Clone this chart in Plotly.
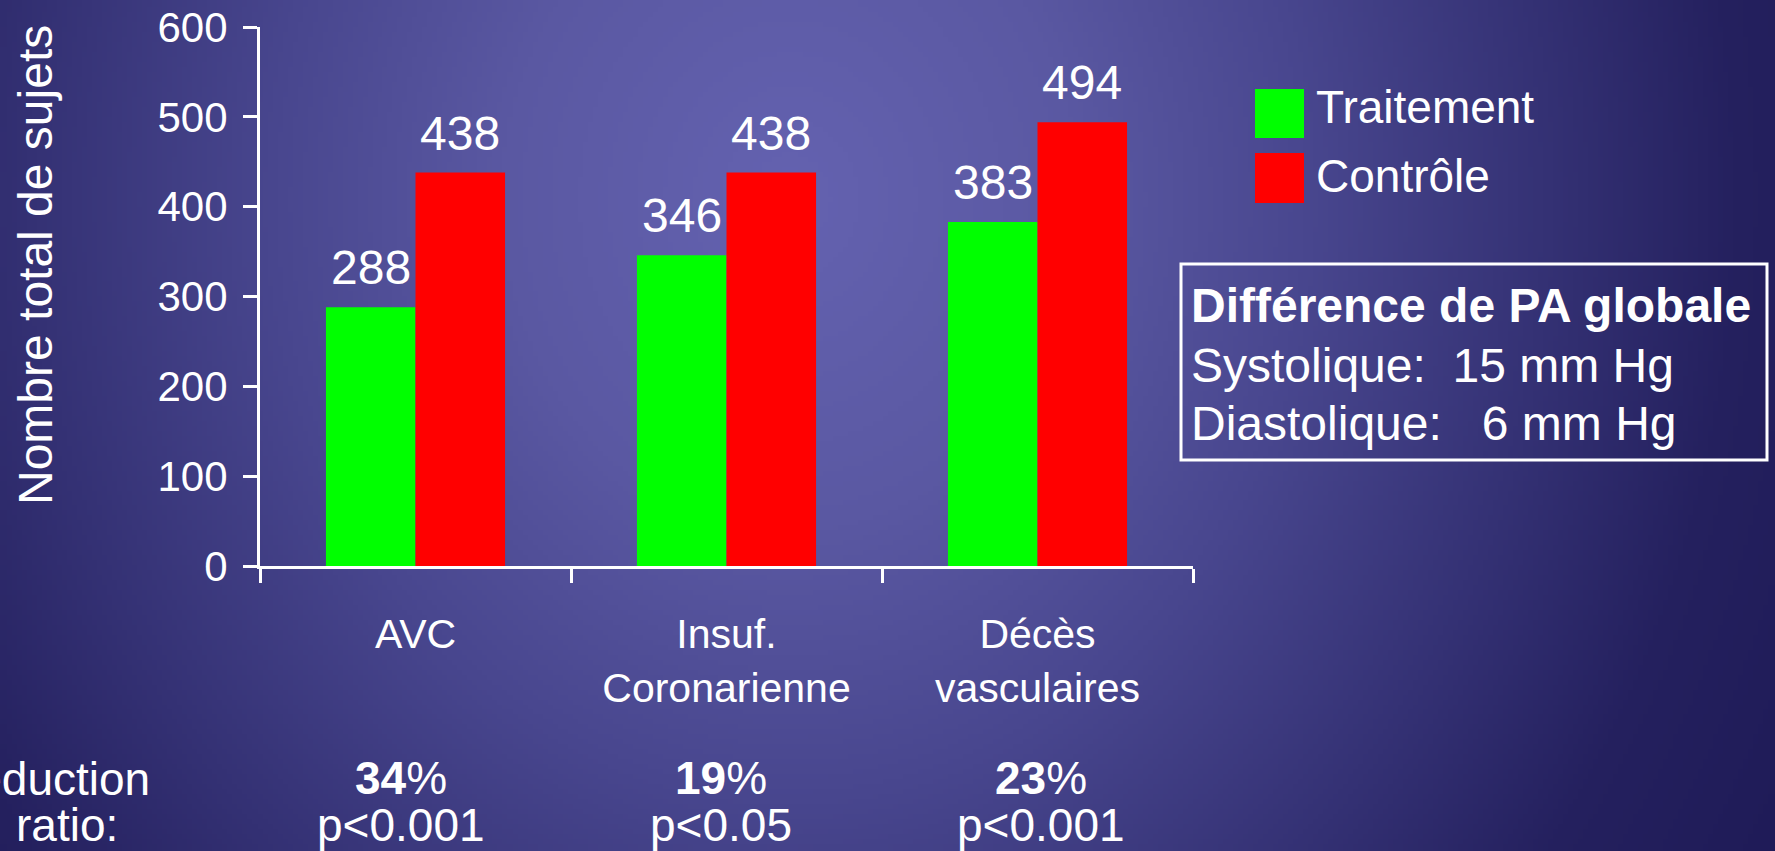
import base64
import struct
import zlib

import numpy as np
import plotly.graph_objects as go

# ---- data ----
categories = ["AVC", "Insuf.<br>Coronarienne", "Décès<br>vasculaires"]
series_names = ["Traitement", "Contrôle"]
traitement = [288, 346, 383]
controle = [438, 438, 494]
reductions = ["34", "19", "23"]
p_values = ["p<0.001", "p<0.05", "p<0.001"]
y_ticks = [0, 100, 200, 300, 400, 500, 600]
y_title = "Nombre total de sujets"
row_label = ["Réduction", "ratio:"]
box_lines = [
    "<b>Différence de PA globale</b>",
    "Systolique:\u00a0\u00a015 mm Hg",
    "Diastolique:\u00a0\u00a0\u00a06 mm Hg",
]

# ---- style ----
GREEN = "#00ff00"
RED = "#ff0000"
WHITE = "#ffffff"
FONT = "Liberation Sans, Arial, sans-serif"
BARGAP = 0.424

W, H = 1775, 851
PLOT_L, PLOT_R, PLOT_T, PLOT_B = 260, 1193, 27, 566


def px(x):
    """page pixel column -> paper x"""
    return (x - PLOT_L) / (PLOT_R - PLOT_L)


def py(y):
    """page pixel row -> paper y"""
    return (PLOT_B - y) / (PLOT_B - PLOT_T)


def mid_from_baseline(baseline, size):
    """vertical centre of a one-line text box whose baseline sits at `baseline`"""
    return baseline - 0.3465 * size


def background_png(w, h, step):
    """soft elliptical blue glow, brightest slightly left of centre"""
    xs = (np.arange(w) + 0.5) * step
    ys = (np.arange(h) + 0.5) * step
    X, Y = np.meshgrid(xs, ys)
    d = np.sqrt(((X - 790) / 950.0) ** 2 + ((Y - 200) / 1100.0) ** 2)
    stops = [0.0, 0.3, 0.55, 0.8, 1.0, 1.3]
    cols = np.array([
        [100, 98, 176],
        [90, 88, 162],
        [72, 70, 142],
        [52, 49, 116],
        [36, 32, 94],
        [28, 24, 84],
    ], dtype=float)
    rgb = np.stack([np.interp(d, stops, cols[:, k]) for k in range(3)], axis=-1)
    rgb = np.clip(np.round(rgb), 0, 255).astype(np.uint8)
    raw = b"".join(b"\x00" + rgb[r].tobytes() for r in range(h))

    def chunk(tag, data):
        return (struct.pack(">I", len(data)) + tag + data
                + struct.pack(">I", zlib.crc32(tag + data) & 0xFFFFFFFF))

    png = (b"\x89PNG\r\n\x1a\n"
           + chunk(b"IHDR", struct.pack(">IIBBBBB", w, h, 8, 2, 0, 0, 0))
           + chunk(b"IDAT", zlib.compress(raw, 9))
           + chunk(b"IEND", b""))
    return "data:image/png;base64," + base64.b64encode(png).decode()


fig = go.Figure()
for name, values, color in [(series_names[0], traitement, GREEN),
                            (series_names[1], controle, RED)]:
    fig.add_trace(go.Bar(
        x=categories, y=values, name=name,
        marker=dict(color=color, line=dict(width=0)),
        showlegend=False, hoverinfo="x+y",
    ))

annotations = []

# value labels above each bar (bar centres in category units)
bar_w = (1 - BARGAP) / 2
for j, values in enumerate([traitement, controle]):
    for i, v in enumerate(values):
        annotations.append(dict(
            x=i + (j - 0.5) * bar_w, y=v, xref="x", yref="y",
            text=str(v), showarrow=False, xanchor="center", yanchor="bottom",
            yshift=12, borderpad=0,
            font=dict(family=FONT, size=48, color=WHITE),
        ))

# y-axis title
annotations.append(dict(
    x=px(35), y=py(265), xref="paper", yref="paper", text=y_title,
    textangle=-90, showarrow=False, xanchor="center", yanchor="middle",
    font=dict(family=FONT, size=48, color=WHITE),
))

# legend labels
for label, base in zip(series_names, [123, 192]):
    annotations.append(dict(
        x=px(1315), y=py(mid_from_baseline(base, 46)), xref="paper", yref="paper",
        text=label, showarrow=False, xanchor="left", yanchor="middle", borderpad=0,
        font=dict(family=FONT, size=46, color=WHITE),
    ))

# blood-pressure note, one line per annotation
BOX_FS = 48
for line, base in zip(box_lines, [322, 382, 440]):
    annotations.append(dict(
        x=px(1190), y=py(mid_from_baseline(base, BOX_FS)), xref="paper", yref="paper",
        text=line, align="left", showarrow=False,
        xanchor="left", yanchor="middle", borderpad=0,
        font=dict(family=FONT, size=BOX_FS, color=WHITE),
    ))

# reduction / p-value rows under the categories
ROW_FS = 46
row_x = [401, 721, 1040.5]
for cx, red, pv in zip(row_x, reductions, p_values):
    annotations.append(dict(
        x=px(cx), y=py(mid_from_baseline(794, ROW_FS)), xref="paper", yref="paper",
        text=f"<b>{red}</b>%", showarrow=False, xanchor="center", yanchor="middle",
        borderpad=0, font=dict(family=FONT, size=ROW_FS, color=WHITE),
    ))
    annotations.append(dict(
        x=px(cx), y=py(mid_from_baseline(841, ROW_FS)), xref="paper", yref="paper",
        text=pv, showarrow=False, xanchor="center", yanchor="middle",
        borderpad=0, font=dict(family=FONT, size=ROW_FS, color=WHITE),
    ))
for text, right, base in zip(row_label, [151, 119], [795, 841]):
    annotations.append(dict(
        x=px(right), y=py(mid_from_baseline(base, ROW_FS)), xref="paper", yref="paper",
        text=text, showarrow=False, xanchor="right", yanchor="middle",
        borderpad=0, font=dict(family=FONT, size=ROW_FS, color=WHITE),
    ))

shapes = [
    # legend swatches
    dict(type="rect", xref="paper", yref="paper", x0=px(1255), x1=px(1304),
         y0=py(89), y1=py(138), fillcolor=GREEN, line=dict(width=0)),
    dict(type="rect", xref="paper", yref="paper", x0=px(1255), x1=px(1304),
         y0=py(153), y1=py(203), fillcolor=RED, line=dict(width=0)),
    # framed note
    dict(type="rect", xref="paper", yref="paper", x0=px(1181), x1=px(1767),
         y0=py(264), y1=py(460), line=dict(color=WHITE, width=3),
         fillcolor="rgba(0,0,0,0)"),
]

fig.update_layout(
    template="none",
    width=W, height=H,
    margin=dict(l=PLOT_L, r=W - PLOT_R, t=PLOT_T, b=H - PLOT_B, pad=0),
    paper_bgcolor="#2a2668", plot_bgcolor="rgba(0,0,0,0)",
    barmode="group", bargap=BARGAP, bargroupgap=0,
    showlegend=False,
    font=dict(family=FONT, color=WHITE),
    images=[dict(
        source=background_png(355, 171, 5), xref="paper", yref="paper",
        x=px(0), y=py(0), sizex=px(W) - px(0), sizey=py(0) - py(H),
        xanchor="left", yanchor="top", sizing="stretch", layer="below",
    )],
    xaxis=dict(
        type="category", showline=True, linecolor=WHITE, linewidth=3,
        ticks="outside", tickson="boundaries", ticklen=14, tickwidth=3,
        tickcolor=WHITE, ticklabelstandoff=30,
        tickfont=dict(family=FONT, size=41, color=WHITE),
        showgrid=False, zeroline=False, automargin=False,
    ),
    yaxis=dict(
        range=[0, 600], tickvals=y_ticks, showline=True, linecolor=WHITE,
        linewidth=3, ticks="outside", ticklen=14, tickwidth=3, tickcolor=WHITE,
        ticklabelstandoff=7,
        tickfont=dict(family=FONT, size=42, color=WHITE),
        showgrid=False, zeroline=False, automargin=False,
    ),
    annotations=annotations,
    shapes=shapes,
)

fig.write_html("out.html")
